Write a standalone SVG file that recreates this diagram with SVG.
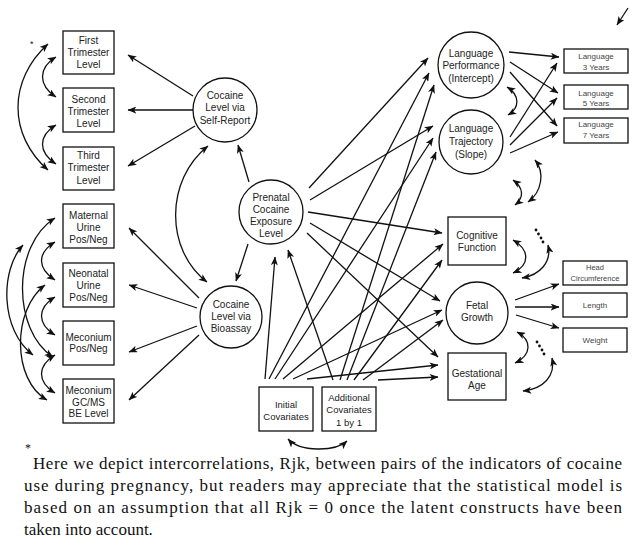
<svg xmlns="http://www.w3.org/2000/svg" width="638" height="547" viewBox="0 0 638 547">
<defs>
<marker id="ah" viewBox="0 0 10 8" refX="9.5" refY="4" markerWidth="9" markerHeight="7" markerUnits="userSpaceOnUse" orient="auto-start-reverse"><path d="M0,0 L10,4 L0,8 L2.5,4z" fill="#111"/></marker>
<style>
.bx{fill:#fff;stroke:#111;stroke-width:1.3}
.t{font-family:"Liberation Sans",Arial,sans-serif;font-size:10px;fill:#222;text-anchor:middle}
.s{font-size:8px;fill:#444}
.xs{font-size:7.5px;fill:#444}
.e{fill:none;stroke:#111;stroke-width:1.3;marker-end:url(#ah)}
.b{fill:none;stroke:#111;stroke-width:1.3;marker-end:url(#ah);marker-start:url(#ah)}
.cap{font-family:"Liberation Serif","Times New Roman",serif;font-size:17px;fill:#111}
</style>
</defs>
<rect width="638" height="547" fill="#fff"/>

<g id="connectors">
<!-- self-report to trimester -->
<path class="e" d="M193,96 L128,55"/>
<path class="e" d="M193,110 L128,110"/>
<path class="e" d="M195,126 L128,166"/>
<!-- prenatal to indicators -->
<path class="e" d="M249,182 L238,145"/>
<path class="e" d="M248,244 L236,281"/>
<path class="b" d="M208,146 C165,180 165,250 207,282"/>
<!-- bioassay to boxes -->
<path class="e" d="M199,298 L129,228"/>
<path class="e" d="M197,308 L129,285"/>
<path class="e" d="M197,326 L129,352"/>
<path class="e" d="M199,335 L129,400"/>
<!-- trimester correlations -->
<path class="b" d="M48,44 C8,80 8,135 48,170"/>
<path class="b" d="M56,57 C38,68 38,85 56,97"/>
<path class="b" d="M56,125 C38,136 38,152 56,164"/>
<!-- bioassay correlations -->
<path class="b" d="M55,242 C37,253 37,268 55,280"/>
<path class="b" d="M55,297 C37,308 37,324 55,335"/>
<path class="b" d="M55,355 C37,366 37,382 55,393"/>
<path class="b" d="M55,218 C12,245 12,330 53,357"/>
<path class="b" d="M23,245 C0,270 0,330 33,355"/>
<path class="b" d="M45,285 C12,310 12,380 47,400"/>
<!-- prenatal to outcomes -->
<path class="e" d="M309,188 L428,58"/>
<path class="e" d="M310,200 L433,126"/>
<path class="e" d="M308,212 L442,233"/>
<path class="e" d="M310,223 L440,301"/>
<path class="e" d="M307,233 L438,357"/>
<!-- initial covariates -->
<path class="e" d="M265,379 L275,257"/>
<path class="e" d="M269,379 L429,73"/>
<path class="e" d="M275,379 L433,138"/>
<path class="e" d="M283,379 L443,244"/>
<path class="e" d="M293,379 L442,310"/>
<path class="e" d="M307,379 L438,365"/>
<!-- additional covariates -->
<path class="e" d="M333,380 L288,250"/>
<path class="e" d="M340,380 L434,85"/>
<path class="e" d="M347,380 L436,152"/>
<path class="e" d="M354,380 L442,260"/>
<path class="e" d="M363,380 L443,320"/>
<path class="e" d="M378,380 L438,377"/>
<!-- language -->
<path class="e" d="M509,52 L559,57"/>
<path class="e" d="M510,62 L558,93"/>
<path class="e" d="M510,72 L557,126"/>
<path class="e" d="M510,137 L557,63"/>
<path class="e" d="M510,145 L557,98"/>
<path class="e" d="M510,153 L558,132"/>
<path class="b" d="M507,87 C520,95 520,108 508,115"/>
<path class="b" d="M513,180 C524,188 524,198 515,205"/>
<path class="b" d="M535,160 C545,172 542,192 528,202"/>
<!-- outcome correlations -->
<path class="b" d="M513,240 C530,250 530,265 513,273"/>
<path class="b" d="M548,245 C552,262 540,275 522,278"/>
<path class="b" d="M517,332 C532,340 532,355 515,363"/>
<path class="b" d="M552,358 C556,376 543,389 523,391"/>
<g fill="#111">
<circle cx="536" cy="230" r="1.4"/><circle cx="538.5" cy="234" r="1.4"/><circle cx="541" cy="238" r="1.4"/><circle cx="543" cy="242" r="1.4"/>
<circle cx="537" cy="342" r="1.4"/><circle cx="539.5" cy="346" r="1.4"/><circle cx="542" cy="350" r="1.4"/><circle cx="544" cy="354" r="1.4"/>
</g>
<!-- fetal growth measures -->
<path class="e" d="M515,300 L559,284"/>
<path class="e" d="M515,307 L559,307"/>
<path class="e" d="M516,315 L559,328"/>
<!-- misc -->
<path class="e" d="M628,8 L617,25"/>
<path class="b" d="M288,439 C300,452 335,452 347,441"/>
</g>

<g id="n-first"><rect class="bx" x="63" y="31" width="51" height="43"/><text class="t"><tspan x="88.5" y="43.5">First</tspan><tspan x="88.5" y="55.5">Trimester</tspan><tspan x="88.5" y="67.5">Level</tspan></text></g>
<g id="n-second"><rect class="bx" x="63" y="88" width="51" height="44"/><text class="t"><tspan x="88.5" y="102.5">Second</tspan><tspan x="88.5" y="114.5">Trimester</tspan><tspan x="88.5" y="126.5">Level</tspan></text></g>
<g id="n-third"><rect class="bx" x="63" y="147" width="51" height="43"/><text class="t"><tspan x="88.5" y="158.5">Third</tspan><tspan x="88.5" y="171">Trimester</tspan><tspan x="88.5" y="183.5">Level</tspan></text></g>
<g id="n-maternal"><rect class="bx" x="63" y="204" width="51" height="44"/><text class="t"><tspan x="88.5" y="218.5">Maternal</tspan><tspan x="88.5" y="230.5">Urine</tspan><tspan x="88.5" y="242.5">Pos/Neg</tspan></text></g>
<g id="n-neonatal"><rect class="bx" x="63" y="263" width="51" height="44"/><text class="t"><tspan x="88.5" y="276.5">Neonatal</tspan><tspan x="88.5" y="288.5">Urine</tspan><tspan x="88.5" y="300.5">Pos/Neg</tspan></text></g>
<g id="n-meconium"><rect class="bx" x="63" y="321" width="51" height="44"/><text class="t"><tspan x="88.5" y="340.5">Meconium</tspan><tspan x="88.5" y="352">Pos/Neg</tspan></text></g>
<g id="n-gcms"><rect class="bx" x="63" y="379" width="51" height="44"/><text class="t"><tspan x="88.5" y="393.5">Meconium</tspan><tspan x="88.5" y="405.5">GC/MS</tspan><tspan x="88.5" y="417">BE Level</tspan></text></g>
<text x="30" y="47" font-family="Liberation Sans,sans-serif" font-size="9" fill="#222">*</text>

<g id="n-selfreport"><circle class="bx" cx="225" cy="110" r="32"/><text class="t"><tspan x="225" y="98.5">Cocaine</tspan><tspan x="225" y="110.5">Level via</tspan><tspan x="225" y="123.5">Self-Report</tspan></text></g>
<g id="n-prenatal"><circle class="bx" cx="271" cy="212" r="32"/><text class="t"><tspan x="271" y="200.5">Prenatal</tspan><tspan x="271" y="212.5">Cocaine</tspan><tspan x="271" y="225">Exposure</tspan><tspan x="271" y="236.5">Level</tspan></text></g>
<g id="n-bioassay"><circle class="bx" cx="231" cy="317" r="31"/><text class="t"><tspan x="231" y="308">Cocaine</tspan><tspan x="231" y="320">Level via</tspan><tspan x="231" y="332">Bioassay</tspan></text></g>

<g id="n-langperf"><circle class="bx" cx="471" cy="65" r="33"/><text class="t"><tspan x="471" y="56.5">Language</tspan><tspan x="471" y="68.5">Performance</tspan><tspan x="471" y="81.5">(Intercept)</tspan></text></g>
<g id="n-langtraj"><circle class="bx" cx="471" cy="142" r="32"/><text class="t"><tspan x="471" y="131.5">Language</tspan><tspan x="471" y="144.5">Trajectory</tspan><tspan x="471" y="157.5">(Slope)</tspan></text></g>
<g id="n-lang3"><rect class="bx" x="564" y="49" width="64" height="24"/><text class="t s"><tspan x="596" y="59">Language</tspan><tspan x="596" y="70">3 Years</tspan></text></g>
<g id="n-lang5"><rect class="bx" x="564" y="85" width="64" height="24"/><text class="t s"><tspan x="596" y="95.5">Language</tspan><tspan x="596" y="106">5 Years</tspan></text></g>
<g id="n-lang7"><rect class="bx" x="564" y="118" width="64" height="25"/><text class="t s"><tspan x="596" y="127">Language</tspan><tspan x="596" y="138">7 Years</tspan></text></g>

<g id="n-cognitive"><rect class="bx" x="448" y="217" width="58" height="48"/><text class="t"><tspan x="477" y="238.5">Cognitive</tspan><tspan x="477" y="251">Function</tspan></text></g>
<g id="n-fetal"><circle class="bx" cx="477" cy="313" r="31"/><text class="t"><tspan x="477" y="308.5">Fetal</tspan><tspan x="477" y="320.5">Growth</tspan></text></g>
<g id="n-gestational"><rect class="bx" x="448" y="353" width="58" height="47"/><text class="t"><tspan x="477" y="376.5">Gestational</tspan><tspan x="477" y="388.5">Age</tspan></text></g>
<g id="n-head"><rect class="bx" x="563" y="261" width="64" height="24"/><text class="t xs"><tspan x="595" y="270">Head</tspan><tspan x="595" y="281">Circumference</tspan></text></g>
<g id="n-length"><rect class="bx" x="563" y="293" width="64" height="24"/><text class="t s" x="595" y="308">Length</text></g>
<g id="n-weight"><rect class="bx" x="563" y="328" width="64" height="24"/><text class="t s" x="595" y="343">Weight</text></g>

<g id="n-initial"><rect class="bx" x="259" y="387" width="54" height="44"/><text class="t" style="font-size:9.5px"><tspan x="286" y="408">Initial</tspan><tspan x="286" y="419.5">Covariates</tspan></text></g>
<g id="n-additional"><rect class="bx" x="322" y="387" width="54" height="44"/><text class="t" style="font-size:9.5px"><tspan x="349" y="400.5">Additional</tspan><tspan x="349" y="413">Covariates</tspan><tspan x="349" y="426">1 by 1</tspan></text></g>

<g id="caption">
<text class="cap" x="25" y="452" style="font-size:12px">*</text>
<text class="cap" x="33" y="469" textLength="589" lengthAdjust="spacing">Here we depict intercorrelations, Rjk, between pairs of the indicators of cocaine</text>
<text class="cap" x="24" y="491" textLength="598" lengthAdjust="spacing">use during pregnancy, but readers may appreciate that the statistical model is</text>
<text class="cap" x="24" y="513" textLength="598" lengthAdjust="spacing">based on an assumption that all Rjk = 0 once the latent constructs have been</text>
<text class="cap" x="24" y="535">taken into account.</text>
</g>
</svg>
